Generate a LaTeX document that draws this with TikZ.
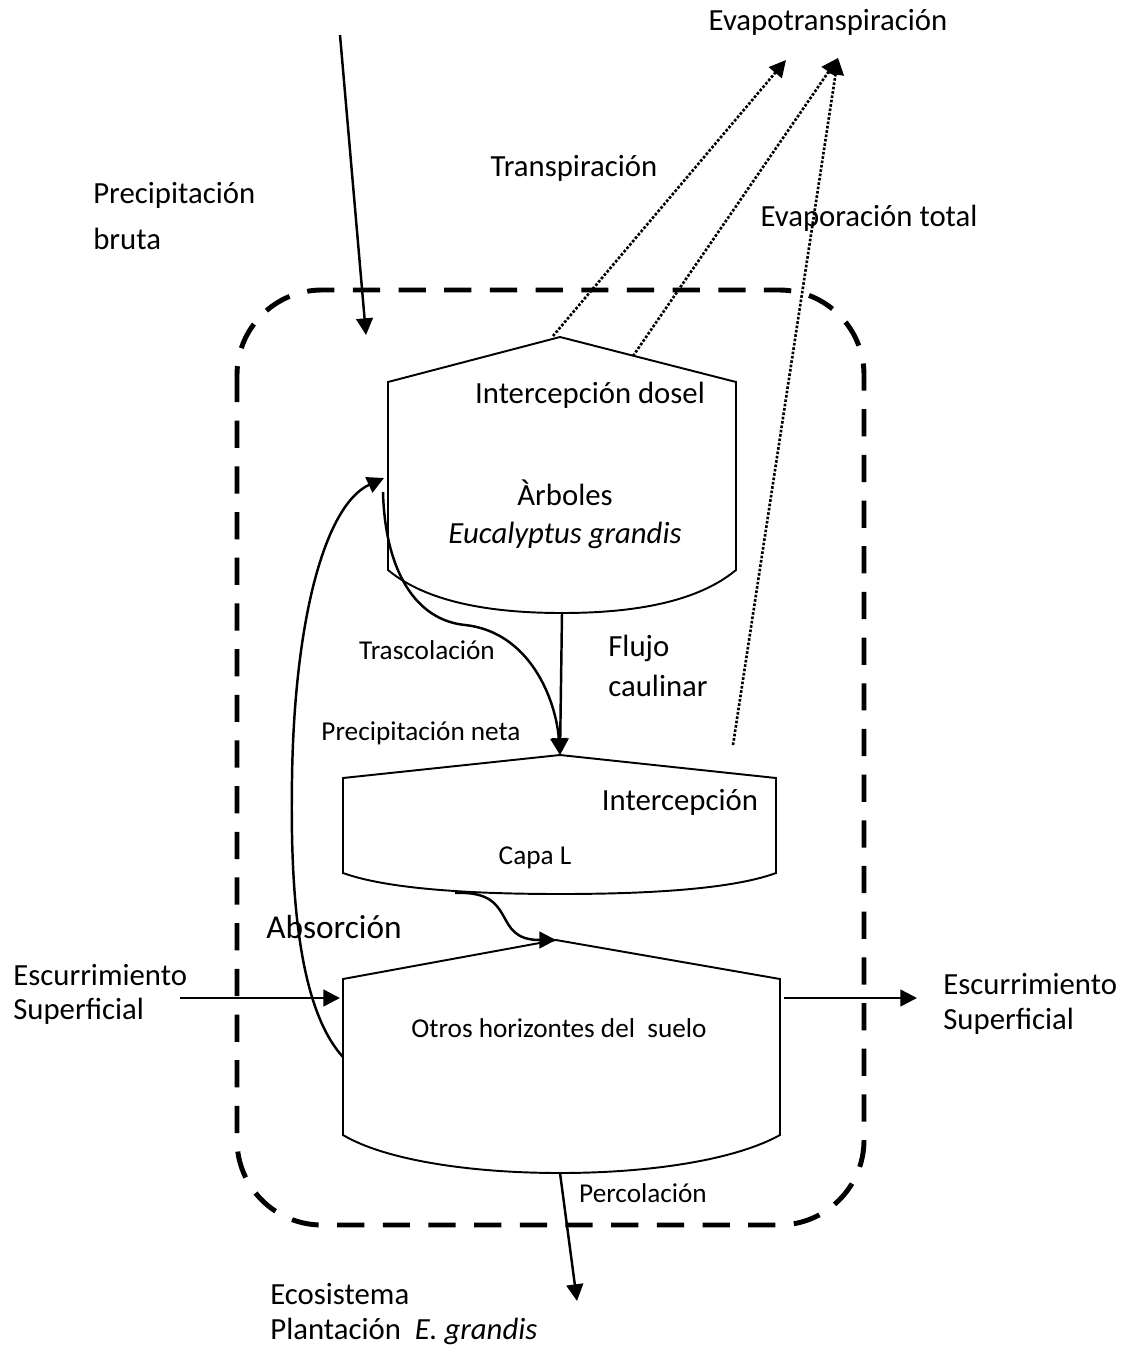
\documentclass[tikz,border=0pt]{standalone}
\usepackage{fontspec}
\setmainfont{Carlito}
\usepackage{tikz}
\usetikzlibrary{arrows.meta}

\begin{document}
\begin{tikzpicture}[x=0.02cm,y=-0.02cm,
    txt/.style={inner sep=0pt,font=\fontsize{17.5}{21}\selectfont},
    txtp/.style={inner sep=0pt,font=\fontsize{15.5}{19}\selectfont},
    caja/.style={line width=1.1pt,line join=miter},
    flecha/.style={line width=1.4pt,-{Triangle[length=9.5pt,width=9.5pt]}},
    punteada/.style={line width=1.5pt,densely dotted,-{Triangle[length=9.5pt,width=9.5pt]}}]
    \useasboundingbox (0,0) rectangle (1126,1348);

    % 边界（虚线）
    \draw[line width=2.8pt,dash pattern=on 15.5pt off 10.5pt,rounded corners=1.7cm]
        (237,290) rectangle (864,1225);

    % 树冠
    \coordinate (aA) at (560,337);
    \coordinate (aI) at (388,382);
    \coordinate (aD) at (736,382);
    \coordinate (aB) at (562,613);
    \draw[caja] (aA) -- (aD) -- (736,570)
        .. controls (694,605) and (624,613) .. (aB)
        .. controls (500,613) and (430,605) .. (388,570) -- (aI) -- cycle;

    % 枯落物层
    \coordinate (cA) at (560,755);
    \coordinate (cB) at (560,894);
    \draw[caja] (cA) -- (776,778) -- (776,873)
        .. controls (730,890) and (640,894) .. (cB)
        .. controls (480,894) and (390,890) .. (343,873) -- (343,778) -- cycle;

    % 土壤
    \coordinate (sA) at (556,940);
    \coordinate (sI) at (343,979);
    \coordinate (sD) at (780,979);
    \coordinate (sB) at (560,1173);
    \draw[caja] (sA) -- (sD) -- (780,1135)
        .. controls (735,1160) and (650,1173) .. (sB)
        .. controls (470,1173) and (385,1160) .. (343,1135) -- (sI) -- cycle;

    % 文字
    \node[txt] (evapo) at (828,22) {Evapotranspiración};
    \node[txt] (transp) at (574,168) {Transpiración};
    \node[txt] (evaptot) at (869,218) {Evaporación total};
    \node[txt,anchor=west,align=left,font=\fontsize{17.5}{26.5}\selectfont] (precbruta) at (93,216) {Precipitación\\bruta};
    \node[txt] (intdosel) at (590,395) {Intercepción dosel};
    \node[txt,align=center,font=\fontsize{17.5}{21.5}\selectfont] (arboles) at (565,514) {Àrboles\\\textit{Eucalyptus grandis}};
    \node[txtp] (trasc) at (427,650) {Trascolación};
    \node[txt,anchor=west,align=left,font=\fontsize{17.5}{22.7}\selectfont] (flujo) at (608,666) {Flujo\\caulinar};
    \node[txtp] (precneta) at (421,733) {Precipitación neta};
    \node[txt] (intcapa) at (680,802) {Intercepción};
    \node[txtp] (capal) at (535,858) {Capa L};
    \node[txt,font=\fontsize{19}{23}\selectfont] (absorc) at (334,927) {Absorción};
    \node[txt,anchor=west,align=left,font=\fontsize{17.5}{19.3}\selectfont] (escizq) at (13,994) {Escurrimiento\\Superficial};
    \node[txtp] (otros) at (559,1028) {Otros horizontes del\ \ suelo};
    \node[txt,anchor=west,align=left,font=\fontsize{17.5}{19.8}\selectfont] (escder) at (943,1004) {Escurrimiento\\Superficial};
    \node[txtp] (percol) at (643,1193) {Percolación};
    \node[txt,anchor=west,align=left,font=\fontsize{17.5}{20}\selectfont] (ecosis) at (270,1314) {Ecosistema\\Plantación\ \ \textit{E. grandis}};

    % 水流
    \coordinate (pb) at (340,35);
    \coordinate (pbF) at (366,335);
    \draw[flecha] (pb) -- (pbF);

    \coordinate (tr) at (553,336);
    \coordinate (trF) at (786,60);
    \coordinate (ev) at (633,356);
    \coordinate (ev2) at (733,745);
    \coordinate (evF) at (838,58);
    \draw[punteada] (tr) -- (trF);
    \draw[punteada] (ev) -- (evF);
    \draw[punteada] (ev2) -- (evF);

    \draw[flecha] (aB) -- (cA);
    \coordinate (ts) at (383,492);
    \coordinate (tm) at (465,625);
    \draw[flecha] (ts) .. controls (385,570) and (415,620) .. (tm)
        .. controls (530,632) and (556,700) .. (cA);

    \coordinate (ab) at (343,1057);
    \coordinate (am) at (292,780);
    \coordinate (abF) at (384,478);
    \draw[flecha] (ab) .. controls (300,1010) and (290,900) .. (am)
        .. controls (294,620) and (325,505) .. (abF);

    \coordinate (cl) at (455,893);
    \draw[flecha] (cl) .. controls (520,890) and (490,940) .. (sA);

    \coordinate (ei) at (180,998);
    \coordinate (eiF) at (340,998);
    \draw[flecha] (ei) -- (eiF);
    \coordinate (ed) at (784,998);
    \coordinate (edF) at (917,998);
    \draw[flecha] (ed) -- (edF);

    \coordinate (peF) at (577,1301);
    \draw[flecha] (sB) -- (peF);
\end{tikzpicture}
\end{document}
